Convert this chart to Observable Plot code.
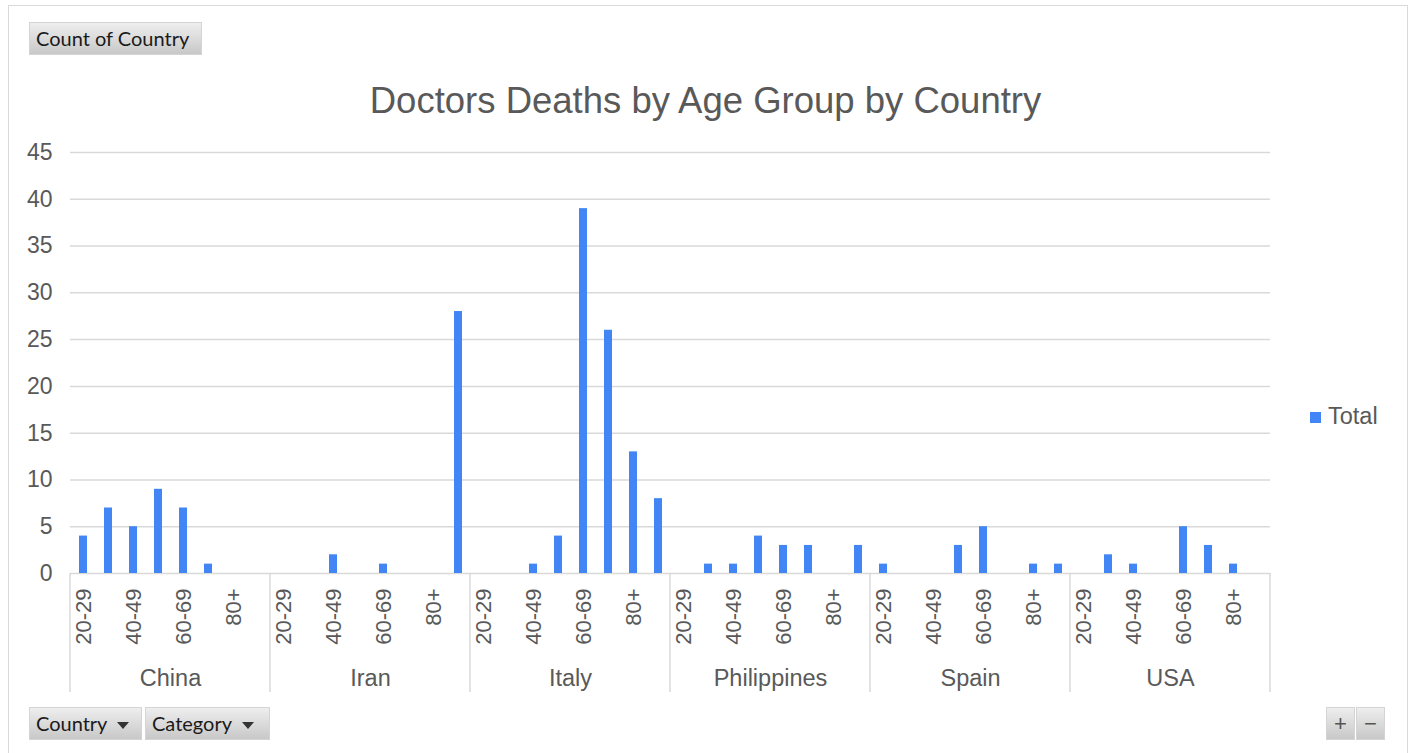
<!DOCTYPE html>
<html><head><meta charset="utf-8">
<script src="https://cdn.jsdelivr.net/npm/d3@7"></script>
<script src="https://cdn.jsdelivr.net/npm/@observablehq/plot@0.6"></script>
<style>
body{margin:0;background:#fff;}
#wrap{position:relative;width:1411px;height:753px;overflow:hidden;font-family:"Liberation Sans",Arial,sans-serif;background:#fff}
#border{position:absolute;left:8px;top:5px;width:1400px;height:760px;border:1px solid #d9d9d9;box-sizing:border-box}
.btn{position:absolute;height:33px;background:linear-gradient(#eeeeee,#c8c8c8);border:1px solid #d4d4d4;box-sizing:border-box;font-family:Lato,sans-serif;font-size:20px;color:#1a1a1a;line-height:31px;padding-left:6px;white-space:nowrap}
.tri{display:inline-block;width:0;height:0;border-left:6px solid transparent;border-right:6px solid transparent;border-top:7px solid #333;margin-left:10px;vertical-align:middle}
.pm{padding-left:0;text-align:center;font-size:22px;color:#555;font-family:"Liberation Sans",Arial}
#title{position:absolute;left:0;width:1411px;top:81px;text-align:center;font-size:36.5px;color:#595959;line-height:40px}
#chart{position:absolute;left:0;top:0}
#legend{position:absolute;left:1310px;top:403px;font-size:23.5px;color:#595959;line-height:26px}
#legend .sw{display:inline-block;width:11px;height:11px;background:#4285f4;margin-right:7px;vertical-align:1px}
</style>
</head><body>
<div id="wrap">
  <div id="chart"></div>
  <div id="border"></div>
  <div class="btn" style="left:29px;top:22px;width:173px">Count of Country</div>
  <div id="title">Doctors Deaths by Age Group by Country</div>
  <div id="legend"><span class="sw"></span>Total</div>
  <div class="btn" style="left:29px;top:707px;width:113px">Country<span class="tri"></span></div>
  <div class="btn" style="left:145px;top:707px;width:125px">Category<span class="tri"></span></div>
  <div class="btn pm" style="left:1326px;top:707px;width:29px">+</div>
  <div class="btn pm" style="left:1356px;top:707px;width:29px">−</div>
</div>
<script>
const countries = ["China", "Iran", "Italy", "Philippines", "Spain", "USA"];
const categories = ["20-29", "30-39", "40-49", "50-59", "60-69", "70-79", "80+", "Unknown"];
const shownLabels = ["20-29", "40-49", "60-69", "80+"];
const china       = [4, 7, 5, 9, 7, 1, 0, 0];
const iran        = [0, 0, 2, 0, 1, 0, 0, 28];
const italy       = [0, 0, 1, 4, 39, 26, 13, 8];
const philippines = [0, 1, 1, 4, 3, 3, 0, 3];
const spain       = [1, 0, 0, 3, 5, 0, 1, 1];
const usa         = [0, 2, 1, 0, 5, 3, 1, 0];
const yTicks = [0, 5, 10, 15, 20, 25, 30, 35, 40, 45];

const series = [china, iran, italy, philippines, spain, usa];
const data = [];
countries.forEach((c, i) => categories.forEach((k, j) => data.push({country: c, category: k, value: series[i][j]})));

const plot = Plot.plot({
  width: 1411, height: 753,
  marginLeft: 70, marginRight: 141, marginTop: 152, marginBottom: 180,
  style: {fontFamily: "Liberation Sans, Arial, sans-serif", fontSize: "22px", color: "#595959", background: "transparent", overflow: "visible"},
  fx: {domain: countries, padding: 0, label: null},
  x: {domain: categories, paddingInner: 0.68, paddingOuter: 0.34, label: null},
  y: {domain: [0, 45], label: null},
  marks: [
    Plot.gridY(yTicks, {stroke: "#d9d9d9", strokeOpacity: 1, strokeWidth: 1.5}),
    Plot.barY(data, {fx: "country", x: "category", y: "value", fill: "#4285f4"}),
    Plot.axisY(yTicks, {tickSize: 0, tickPadding: 18, label: null, fontSize: 23}),
    Plot.axisX({tickSize: 0, tickPadding: 15, tickRotate: -90, tickFormat: d => shownLabels.includes(d) ? d : "", label: null}),
    Plot.axisFx({anchor: "bottom", tickSize: 0, tickPadding: 96, label: null, fontSize: 23.5})
  ]
});

// category separators drawn from the library's scales
const fx = plot.scale("fx"), y = plot.scale("y");
const y0 = y.apply(0);
const edges = countries.map(c => fx.apply(c));
edges.push(fx.apply(countries[countries.length - 1]) + fx.bandwidth);
d3.select(plot).append("g").selectAll("line").data(edges).join("line")
  .attr("x1", d => d).attr("x2", d => d)
  .attr("y1", y0).attr("y2", y0 + 119)
  .attr("stroke", "#d9d9d9").attr("stroke-width", 1.5);

document.getElementById("chart").appendChild(plot);
</script>
</body></html>
